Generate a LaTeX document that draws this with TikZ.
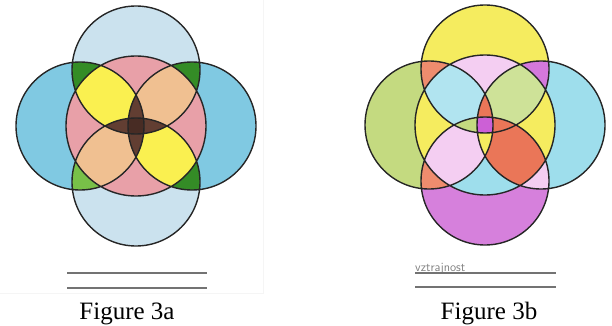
\documentclass[tikz,border=0pt]{standalone}
\usepackage{fontspec}
\setmainfont{Liberation Serif}

% the five circles of one flower, centred on the scope origin
\newcommand{\ringT}{(0,-56) circle[radius=64pt]}
\newcommand{\ringB}{(0,56) circle[radius=64pt]}
\newcommand{\ringL}{(-56,0) circle[radius=64pt]}
\newcommand{\ringR}{(56,0) circle[radius=64pt]}
\newcommand{\ringC}{(0,0) circle[radius=70pt]}

\definecolor{paleBlue}{RGB}{203,226,238}
\definecolor{deepBlue}{RGB}{128,201,226}
\definecolor{leafDark}{RGB}{52,140,38}
\definecolor{leafLight}{RGB}{120,192,72}
\definecolor{rosePink}{RGB}{232,160,168}
\definecolor{lemon}{RGB}{250,240,80}
\definecolor{peach}{RGB}{240,192,145}
\definecolor{cocoa}{RGB}{98,62,50}
\definecolor{cocoaDark}{RGB}{72,44,36}

\definecolor{sunYellow}{RGB}{245,236,95}
\definecolor{plum}{RGB}{214,128,220}
\definecolor{grassy}{RGB}{196,218,128}
\definecolor{aqua}{RGB}{158,222,236}
\definecolor{coral}{RGB}{238,140,110}
\definecolor{lilac}{RGB}{244,206,242}
\definecolor{mint}{RGB}{206,226,152}
\definecolor{redOrange}{RGB}{234,118,88}
\definecolor{violet}{RGB}{204,96,214}

\tikzset{
  rim/.style={draw=black!85,line width=1.4pt},
  rule/.style={draw=black!55,line width=1.5pt},
  caption/.style={font=\fontsize{25}{28}\selectfont,inner sep=0pt,anchor=base}
}

\begin{document}
\begin{tikzpicture}[x=1pt,y=-1pt]
\useasboundingbox (0,0) rectangle (612,326);
\draw[black!4,line width=0.8pt] (0,293)--(263,293)--(263,0);

% Figure 3a
\begin{scope}[shift={(136,126)}]
\fill[paleBlue] \ringT; \fill[paleBlue] \ringB;
\fill[deepBlue] \ringL; \fill[deepBlue] \ringR;
\begin{scope}\clip \ringT; \fill[leafDark] \ringL; \end{scope}
\begin{scope}\clip \ringT; \fill[leafDark] \ringR; \end{scope}
\begin{scope}\clip \ringB; \fill[leafLight] \ringL; \end{scope}
\begin{scope}\clip \ringB; \fill[leafDark] \ringR; \end{scope}
\fill[rosePink] \ringC;
\begin{scope}\clip \ringC; \clip \ringT; \fill[lemon] \ringL; \end{scope}
\begin{scope}\clip \ringC; \clip \ringT; \fill[peach] \ringR; \end{scope}
\begin{scope}\clip \ringC; \clip \ringB; \fill[peach] \ringL; \end{scope}
\begin{scope}\clip \ringC; \clip \ringB; \fill[lemon] \ringR; \end{scope}
\begin{scope}\clip \ringT; \fill[cocoa] \ringB; \end{scope}
\begin{scope}\clip \ringL; \fill[cocoa] \ringR; \end{scope}
\begin{scope}\clip \ringT; \clip \ringB; \clip \ringL; \fill[cocoaDark] \ringR; \end{scope}
\draw[rim] \ringT \ringB \ringL \ringR \ringC;
\end{scope}
\draw[rule] (67,273)--(207,273);
\draw[rule] (67,288)--(207,288);
\node[caption] (capA) at (127,319) {Figure 3a};

% Figure 3b
\begin{scope}[shift={(485,125)}]
\fill[sunYellow] \ringT; \fill[plum] \ringB;
\fill[grassy] \ringL; \fill[aqua] \ringR;
\begin{scope}\clip \ringT; \fill[coral] \ringL; \end{scope}
\begin{scope}\clip \ringT; \fill[violet!85] \ringR; \end{scope}
\begin{scope}\clip \ringB; \fill[coral] \ringL; \end{scope}
\begin{scope}\clip \ringB; \fill[lilac] \ringR; \end{scope}
\begin{scope}\clip \ringC; \fill[lilac] \ringT; \end{scope}
\begin{scope}\clip \ringC; \fill[sunYellow] \ringL; \end{scope}
\begin{scope}\clip \ringC; \fill[sunYellow] \ringR; \end{scope}
\begin{scope}\clip \ringC; \fill[aqua] \ringB; \end{scope}
\begin{scope}\clip \ringC; \clip \ringT; \fill[aqua!80] \ringL; \end{scope}
\begin{scope}\clip \ringC; \clip \ringT; \fill[mint] \ringR; \end{scope}
\begin{scope}\clip \ringC; \clip \ringB; \fill[lilac] \ringL; \end{scope}
\begin{scope}\clip \ringC; \clip \ringB; \fill[redOrange] \ringR; \end{scope}
\begin{scope}\clip \ringT; \clip \ringB; \fill[grassy] \ringL; \end{scope}
\begin{scope}\clip \ringT; \clip \ringB; \fill[redOrange] \ringR; \end{scope}
\begin{scope}\clip \ringL; \clip \ringR; \fill[redOrange] \ringT; \end{scope}
\begin{scope}\clip \ringL; \clip \ringR; \fill[sunYellow] \ringB; \end{scope}
\begin{scope}\clip \ringT; \clip \ringB; \clip \ringL; \fill[violet] \ringR; \end{scope}
\draw[rim] \ringT \ringB \ringL \ringR \ringC;
\end{scope}
\node[anchor=base west,inner sep=0pt,text=black!50,font=\fontsize{12.5}{14}\sffamily] (word) at (415,271) {vztrajnost};
\draw[rule] (415,273)--(556,273);
\draw[rule] (415,287)--(556,287);
\node[caption] (capB) at (489,319) {Figure 3b};
\end{tikzpicture}
\end{document}
